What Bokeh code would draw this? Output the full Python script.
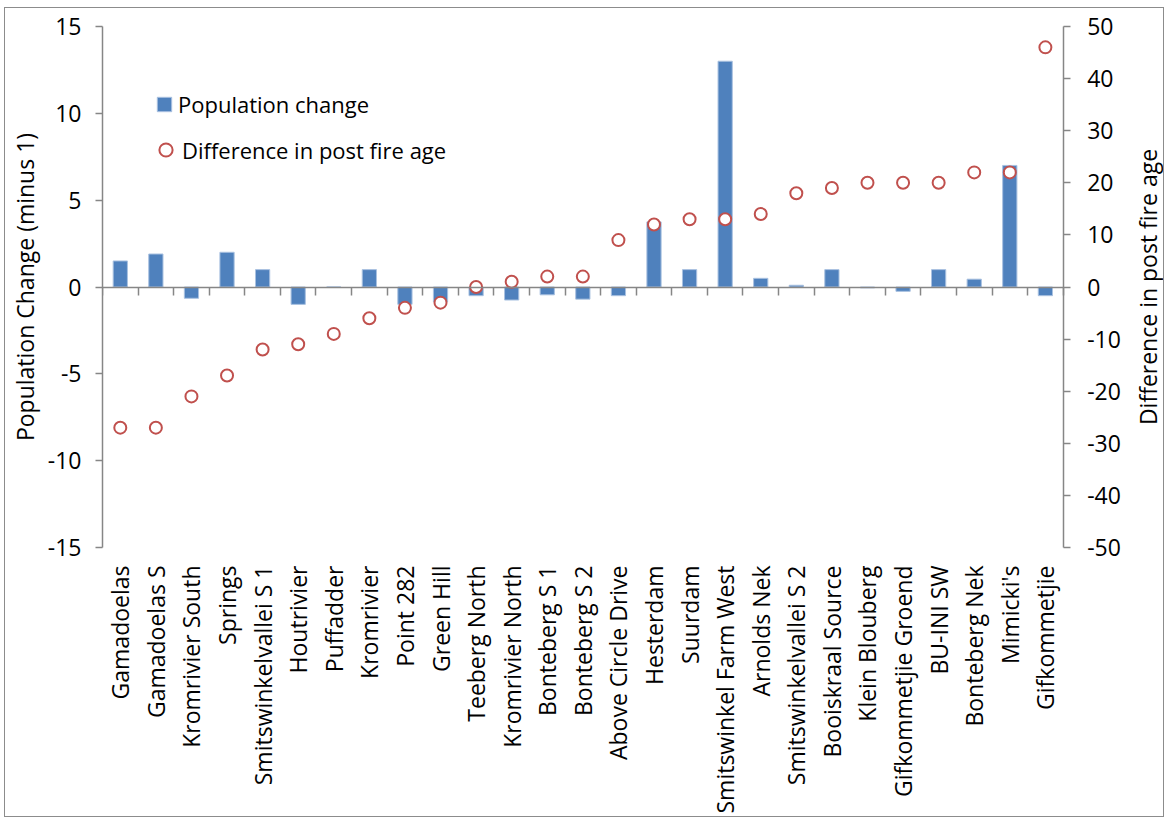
import math
from bokeh.plotting import figure
from bokeh.models import (Range1d, LinearAxis, FixedTicker, Legend, LegendItem,
                          Label, ColumnDataSource)
from bokeh.embed import file_html
from bokeh.resources import INLINE

# ---- data ----
sites = ["Gamadoelas", "Gamadoelas S", "Kromrivier South", "Springs",
         "Smitswinkelvallei S 1", "Houtrivier", "Puffadder", "Kromrivier",
         "Point 282", "Green Hill", "Teeberg North", "Kromrivier North",
         "Bonteberg S 1", "Bonteberg S 2", "Above Circle Drive", "Hesterdam",
         "Suurdam", "Smitswinkel Farm West", "Arnolds Nek",
         "Smitswinkelvallei S 2", "Booiskraal Source", "Klein Blouberg",
         "Gifkommetjie Groend", "BU-INI SW", "Bonteberg Nek", "Mimicki's",
         "Gifkommetjie"]
population_change = [1.5, 1.9, -0.65, 2.0, 1.0, -1.0, 0.0, 1.0,
                     -1.0, -0.85, -0.5, -0.75, -0.45, -0.7, -0.5, 3.75,
                     1.0, 13.0, 0.5, 0.1, 1.0, -0.05, -0.25, 1.0, 0.45, 7.0,
                     -0.5]
fire_age_diff = [-27, -27, -21, -17, -12, -11, -9, -6, -4, -3, 0, 1, 2, 2,
                 9, 12, 13, 13, 14, 18, 19, 20, 20, 20, 22, 22, 46]
left_ticks = [-15, -10, -5, 0, 5, 10, 15]
right_ticks = [-50, -40, -30, -20, -10, 0, 10, 20, 30, 40, 50]
left_lim = 15
right_lim = 50

FONT = "Open Sans"
FS = "23px"
GRAY = "#868686"
n = len(sites)
xs = [i + 0.5 for i in range(n)]
src = ColumnDataSource(dict(x=xs, pop=population_change, age=fire_age_diff, site=sites))

# layout: the frame extends past the axes so that the axis labels drawn
# inside it are not clipped.
FIG_W, FIG_H, BORDER_L = 1160, 810, 90
FRAME_W = FIG_W - BORDER_L
PLOT_W = 967          # px used by the categories
PLOT_H = 521          # px between -15 and 15
PAD = 12              # extra px above and below the axes
x_end = n * FRAME_W / PLOT_W
yf = (PLOT_H + 2 * PAD) / PLOT_H
TOP = 6
BOTTOM = FIG_H - TOP - (PLOT_H + 2 * PAD)

p = figure(width=FIG_W, height=FIG_H, output_backend="svg", toolbar_location=None,
           x_range=Range1d(0, x_end),
           y_range=Range1d(-left_lim * yf, left_lim * yf),
           x_axis_type=None, y_axis_type=None,
           min_border_left=BORDER_L, min_border_right=0, min_border_top=TOP,
           min_border_bottom=BOTTOM)
p.margin = (7, 0, 0, 4)
p.extra_y_ranges = {"right": Range1d(-right_lim * yf, right_lim * yf)}
p.outline_line_color = None
p.xgrid.visible = False
p.ygrid.visible = False
p.background_fill_color = "white"
p.border_fill_color = "white"
p.styles = {"border": "1px solid #8c8c8c"}

# left axis
yl = LinearAxis(ticker=FixedTicker(ticks=left_ticks), bounds=(-left_lim, left_lim),
                axis_label="Population Change (minus 1)",
                major_label_overrides={t: str(t) for t in left_ticks})
# right axis, placed at the end of the categories
yr = LinearAxis(y_range_name="right", ticker=FixedTicker(ticks=right_ticks),
                bounds=(-right_lim, right_lim), fixed_location=n,
                major_label_overrides={t: str(t) for t in right_ticks})
for ax in (yl, yr):
    ax.axis_line_color = GRAY
    ax.axis_line_width = 1.5
    ax.major_tick_line_color = GRAY
    ax.major_tick_line_width = 1.5
    ax.major_tick_out = 7
    ax.major_tick_in = 0
    ax.minor_tick_line_color = None
    ax.major_label_text_font = FONT
    ax.major_label_text_font_size = FS
    ax.major_label_text_color = "black"
    ax.axis_label_text_font = FONT
    ax.axis_label_text_font_size = FS
    ax.axis_label_text_font_style = "normal"
    ax.axis_label_text_color = "black"
yl.major_label_standoff = 14
yl.axis_label_standoff = 4
yr.major_label_standoff = 17
p.add_layout(yl, "left")
p.add_layout(yr, "right")

right_title = Label(x=n, y=0, y_range_name="right", x_offset=85,
                    text="Difference in post fire age", angle=math.pi / 2,
                    text_align="center", text_baseline="middle",
                    text_font=FONT, text_font_size=FS, text_color="black")
p.add_layout(right_title)

# zero-line axis with category boundary ticks
xz = LinearAxis(ticker=FixedTicker(ticks=list(range(n + 1))), fixed_location=0,
                bounds=(0, n))
xz.axis_line_color = GRAY
xz.axis_line_width = 1.5
xz.major_tick_line_color = GRAY
xz.major_tick_line_width = 1.5
xz.major_tick_out = 8
xz.major_tick_in = 0
xz.minor_tick_line_color = None
xz.major_label_text_font_size = "0px"
xz.major_label_text_alpha = 0
p.add_layout(xz, "below")

# category label axis at bottom
xc = LinearAxis(ticker=FixedTicker(ticks=xs),
                major_label_overrides={x: s for x, s in zip(xs, sites)})
xc.axis_line_color = None
xc.major_tick_line_color = None
xc.minor_tick_line_color = None
xc.major_tick_out = 0
xc.major_label_orientation = math.pi / 2
xc.major_label_standoff = 18 - PAD
xc.major_label_text_font = FONT
xc.major_label_text_font_size = FS
xc.major_label_text_color = "black"
p.add_layout(xc, "below")

bars = p.vbar(x="x", top="pop", bottom=0, width=0.4, source=src,
              fill_color="#4F81BD", line_color="#A9C1E0", line_width=1)
pts = p.scatter(x="x", y="age", y_range_name="right", source=src, size=12,
                marker="circle", fill_color="white", line_color="#C0504D",
                line_width=2)

def make_legend(label, renderer, glyph, standoff, loc):
    lg = Legend(items=[LegendItem(label=label, renderers=[renderer])],
                location=loc, orientation="vertical")
    lg.label_text_font = FONT
    lg.label_text_font_size = "22px"
    lg.label_text_color = "black"
    lg.label_height = glyph
    lg.border_line_color = None
    lg.background_fill_alpha = 0
    lg.glyph_width = glyph
    lg.glyph_height = glyph
    lg.label_standoff = standoff
    lg.padding = 0
    lg.margin = 0
    return lg

p.add_layout(make_legend("Population change", bars, 18, 5, (53, 428 + PAD)))
p.add_layout(make_legend("Difference in post fire age", pts, 33, -4, (47, 381 + PAD)))

open("out.html", "w").write(file_html(p, INLINE))
